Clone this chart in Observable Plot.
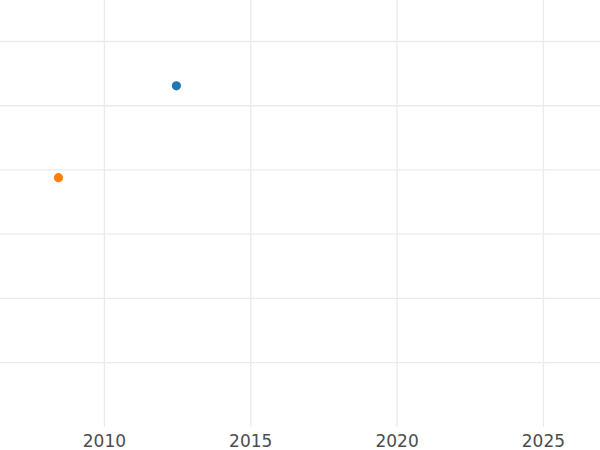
<!DOCTYPE html>
<html>
<head>
<meta charset="utf-8">
<script src="https://cdn.jsdelivr.net/npm/d3@7"></script>
<script src="https://cdn.jsdelivr.net/npm/@observablehq/plot@0.6"></script>
<style>
  html, body { margin: 0; padding: 0; background: #fff; }
  #chart { width: 600px; height: 450px; }
</style>
</head>
<body>
<div id="chart"></div>
<script>
// Data
const series = ["A", "B"];
const years = [2012.46, 2008.43];
const values = [43.1, 28.8];
const colors = ["#1f77b4", "#ff7f0e"];
const xTicks = [2010, 2015, 2020, 2025];
const yTicks = [0, 10, 20, 30, 40, 50];
const xDomain = [2006.45, 2026.95];
const yDomain = [-10.12, 56.39];

const data = series.map((s, i) => ({series: s, year: years[i], value: values[i]}));

const chart = Plot.plot({
  width: 600,
  height: 450,
  marginTop: 0,
  marginRight: 0,
  marginLeft: 0,
  marginBottom: 23,
  style: {fontFamily: "DejaVu Sans, sans-serif", background: "#fff"},
  x: {domain: xDomain, ticks: xTicks, label: null},
  y: {domain: yDomain, ticks: yTicks, label: null},
  color: {domain: series, range: colors},
  marks: [
    Plot.gridX(xTicks, {stroke: "#ebebeb", strokeOpacity: 1, strokeWidth: 1.3}),
    Plot.gridY(yTicks, {stroke: "#ebebeb", strokeOpacity: 1, strokeWidth: 1.3}),
    Plot.axisX(xTicks, {tickSize: 0, tickPadding: 7, fontSize: 17, fill: "#4d4d4d", tickFormat: d => String(d), label: null}),
    Plot.axisY({ticks: [], label: null}),
    Plot.dot(data, {x: "year", y: "value", fill: "series", r: 4.6, stroke: "none"})
  ]
});
document.getElementById("chart").appendChild(chart);
</script>
</body>
</html>
